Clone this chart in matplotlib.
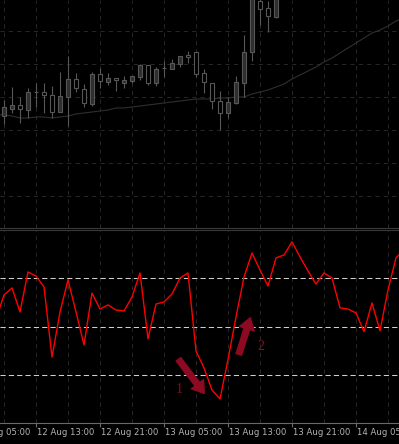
import matplotlib.pyplot as plt
import numpy as np
from matplotlib.patches import FancyArrowPatch

# hourly candles, price in points (only the bars still inside the price window)
opens = [112, 119, 123, 118, 136, 136, 133, 116, 131, 149, 139, 124, 154, 146, 150, 145, 147, 151, 163, 145,
         160, 159, 164, 173, 176, 155, 145, 127, 115, 125, 145, 176, 227, 220, 211]
highs = [128, 141, 131, 140, 145, 145, 142, 156, 172, 155, 144, 156, 160, 155, 150, 152, 152, 164, 163, 161,
         167, 169, 172, 177, 176, 159, 145, 137, 131, 152, 193, 250, 235, 227, 245]
lows = [104, 115, 105, 110, 121, 115, 110, 116, 102, 136, 121, 122, 140, 143, 137, 140, 145, 148, 143, 142,
        151, 159, 161, 165, 151, 135, 119, 98, 110, 124, 131, 167, 203, 196, 210]
closes = [121, 123, 119, 136, 136, 133, 116, 132, 149, 140, 125, 154, 147, 150, 148, 148, 152, 163, 145, 159,
          160, 165, 172, 171, 154, 146, 127, 115, 126, 146, 176, 240, 219, 212, 240]

# moving average, starts one bar before the first candle
ma = [114, 113, 112, 110, 110, 111, 111, 110, 111, 112, 114, 115, 116, 117, 118, 120, 120, 121, 122, 123, 124,
      125, 126, 127, 128, 129, 129, 129, 130, 130, 131, 131, 134, 136, 138, 141, 144, 149, 153, 157, 161,
      166, 170, 175, 180, 185, 190, 195, 198, 202, 207, 210]

# oscillator (RSI style), also starts one bar before the first candle
rsi = [53.2, 63.1, 66.0, 56.1, 72.6, 70.9, 66.4, 37.5, 56.1, 69.3, 56.1, 42.5, 63.9, 57.3, 59.0, 56.9, 56.5,
       62.3, 72.2, 45.0, 59.4, 60.2, 63.5, 70.1, 72.2, 40.0, 33.0, 23.9, 20.2, 36.5, 54.0, 70.5, 80.4, 73.4,
       66.8, 78.4, 79.6, 85.0, 78.8, 73.0, 67.6, 72.2, 70.1, 57.8, 57.3, 55.7, 48.0, 59.8, 48.3, 65.2, 78.4,
       81.7]
levels = [70, 50, 30]

tick_bars = [-4, 4, 12, 20, 28, 36, 44]
tick_labels = ['12 Aug 05:00', '12 Aug 13:00', '12 Aug 21:00', '13 Aug 05:00',
               '13 Aug 13:00', '13 Aug 21:00', '14 Aug 05:00']
price_grid = [32, 65, 98, 131, 164, 197]

bg = '#000000'
grid_col = '#262626'
candle_edge = '#575757'
candle_fill = '#2e2e2e'
arrow_col = '#8c0a22'

fig = plt.figure(figsize=(3.99, 4.44), dpi=100, facecolor=bg)
ax1 = fig.add_axes([0, 216 / 444, 1, 228 / 444], facecolor=bg)
ax2 = fig.add_axes([0, 21 / 444, 1, 193 / 444], facecolor=bg)

xlim = (-0.5, 49.375)
grid_x = np.arange(0, 50, 4)

# ---- price panel
k = np.arange(len(opens))
ax1.vlines(k, lows, highs, color=candle_edge, lw=0.8, zorder=2)
for i in range(len(opens)):
    o, c = opens[i], closes[i]
    face = candle_fill if c > o else bg
    ax1.bar(i, abs(c - o), bottom=min(o, c), width=0.62, facecolor=face,
            edgecolor=candle_edge, linewidth=0.8, zorder=3)

ax1.plot(np.arange(-1, len(ma) - 1), ma, color='#2f2f2f', lw=0.8, zorder=1)

ax1.set_xlim(*xlim)
ax1.set_ylim(0, 228)
ax1.set_xticks(grid_x)
ax1.set_yticks(price_grid)
ax1.tick_params(length=0, labelbottom=False, labelleft=False)
ax1.grid(True, color=grid_col, linestyle=(0, (4, 4)), linewidth=0.75)
ax1.set_axisbelow(True)
for s in ['top', 'left', 'right']:
    ax1.spines[s].set_visible(False)
ax1.spines['bottom'].set_color('#3a3a3a')
ax1.spines['bottom'].set_linewidth(0.8)

# ---- oscillator panel
ax2.plot(np.arange(-1, len(rsi) - 1), rsi, color='#ff0000', lw=1.0, zorder=3)
for lv in levels:
    ax2.axhline(lv, color='#cfcfcf', lw=0.75, linestyle=(0, (5, 3)), zorder=2)

ax2.set_xlim(*xlim)
ax2.set_ylim(10.3, 89.9)
ax2.set_yticks([])
ax2.set_xticks(grid_x, minor=True)
ax2.set_xticks(tick_bars[1:])
ax2.set_xticklabels([])
ax2.tick_params(axis='x', which='major', direction='out', length=3, width=0.8, color='#6a6a6a')
ax2.tick_params(axis='x', which='minor', length=0)
ax2.grid(True, which='both', axis='x', color=grid_col, linestyle=(0, (4, 4)), linewidth=0.75)
ax2.set_axisbelow(True)
for s in ['left', 'right']:
    ax2.spines[s].set_visible(False)
ax2.spines['top'].set_color('#3a3a3a')
ax2.spines['top'].set_linewidth(0.8)
ax2.spines['bottom'].set_color('#6a6a6a')
ax2.spines['bottom'].set_linewidth(0.8)

# time labels sit to the right of their tick
for tb, tl in zip(tick_bars, tick_labels):
    ax2.text(tb + 0.12, -0.025, tl, transform=ax2.get_xaxis_transform(), ha='left', va='top',
             fontsize=6.1, color='#b4b4b4', clip_on=False)

# hand drawn arrows and numbers
arrow_style = 'simple,head_width=1.0,head_length=0.75,tail_width=0.38'
ax2.add_patch(FancyArrowPatch((21.6, 37.5), (25.25, 21.6), arrowstyle=arrow_style,
                              mutation_scale=11, color=arrow_col, zorder=4))
ax2.add_patch(FancyArrowPatch((29.25, 37.5), (30.9, 54.8), arrowstyle=arrow_style,
                              mutation_scale=11, color=arrow_col, zorder=4))
ax2.text(21.9, 24.0, '1', color=arrow_col, fontsize=10, family='Liberation Serif', ha='center', va='center')
ax2.text(32.1, 41.7, '2', color=arrow_col, fontsize=10, family='Liberation Serif', ha='center', va='center')

fig.savefig('out.png', dpi=100, facecolor=bg)
